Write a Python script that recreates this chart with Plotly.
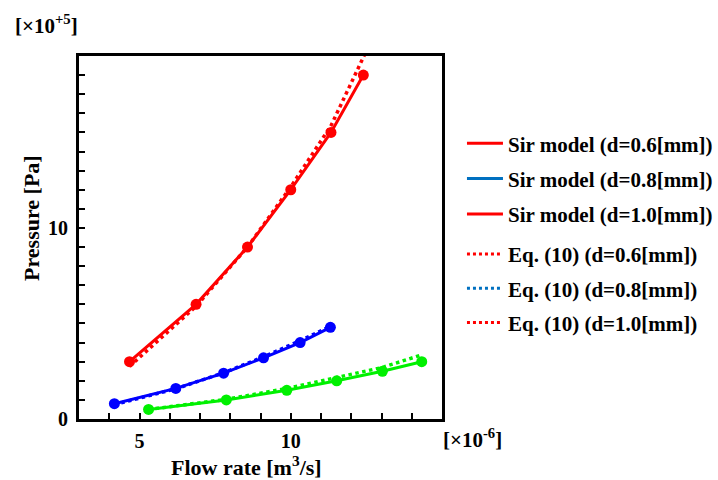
import plotly.graph_objects as go

# ---- data ----
flow_d06 = [4.67, 6.87, 8.57, 10.0, 11.33, 12.4]
sir_d06 = [3.0, 6.0, 9.0, 12.0, 15.0, 18.0]
eq_flow_d06 = [4.67, 6.87, 8.57, 10.0, 11.33, 12.45]
eq_d06 = [2.75, 5.9, 9.0, 12.15, 15.35, 19.1]

flow_d08 = [4.17, 6.2, 7.78, 9.1, 10.31, 11.31]
sir_d08 = [0.8, 1.6, 2.4, 3.2, 4.0, 4.8]
eq_d08 = [0.75, 1.58, 2.42, 3.25, 4.1, 4.85]

flow_d10 = [5.3, 7.87, 9.87, 11.52, 13.03, 14.33]
sir_d10 = [0.5, 1.0, 1.5, 2.0, 2.5, 3.0]
eq_d10 = [0.5, 1.03, 1.6, 2.18, 2.7, 3.36]

legend_labels = [
    "Sir model (d=0.6[mm])",
    "Sir model (d=0.8[mm])",
    "Sir model (d=1.0[mm])",
    "Eq. (10) (d=0.6[mm])",
    "Eq. (10) (d=0.8[mm])",
    "Eq. (10) (d=1.0[mm])",
]
legend_colors = ["#FF0000", "#0070C0", "#FF0000", "#FF0000", "#0070C0", "#FF0000"]

RED, BLUE, GREEN = "#FF0000", "#0000FF", "#00F000"
FONT = "Liberation Serif"

fig = go.Figure()

series = [
    (flow_d06, sir_d06, eq_flow_d06, eq_d06, RED),
    (flow_d08, sir_d08, flow_d08, eq_d08, BLUE),
    (flow_d10, sir_d10, flow_d10, eq_d10, GREEN),
]
for fx, fy, ex, ey, col in series:
    fig.add_trace(go.Scatter(x=ex, y=ey, mode="lines",
                             line=dict(color=col, width=3.5, dash="dot"),
                             showlegend=False, cliponaxis=True))
    fig.add_trace(go.Scatter(x=fx, y=fy, mode="lines+markers",
                             line=dict(color=col, width=3),
                             marker=dict(color=col, size=11),
                             showlegend=False))

# legend-only entries
for i, (lab, col) in enumerate(zip(legend_labels, legend_colors)):
    fig.add_trace(go.Scatter(
        x=[None], y=[None], mode="lines", name=lab,
        line=dict(color=col, width=3, dash="solid" if i < 3 else "dot"),
        legend="legend" if i < 3 else "legend2",
        legendgroup=lab,
    ))

axis_common = dict(
    showline=True, linecolor="black", linewidth=3, mirror=True,
    ticks="inside", ticklen=6, tickwidth=1.5, tickcolor="black",
    showgrid=False, zeroline=False,
    tickfont=dict(family=FONT, size=20, color="black", weight="bold"),
)

fig.update_xaxes(range=[3, 15], tickvals=[5, 10],
                 minor=dict(dtick=1, tick0=0, ticks="inside", ticklen=6,
                            tickwidth=1.5, tickcolor="black"),
                 ticklabelstandoff=2,
                 **axis_common)
fig.update_yaxes(range=[0, 19], tickvals=[0, 10],
                 minor=dict(dtick=1, tick0=0, ticks="inside", ticklen=6,
                            tickwidth=1.5, tickcolor="black"),
                 ticklabelstandoff=4,
                 **axis_common)

legend_font = dict(family=FONT, size=21, color="black", weight="bold")
fig.update_layout(
    width=718, height=480,
    margin=dict(l=79, r=276, t=56, b=61, autoexpand=False),
    plot_bgcolor="white", paper_bgcolor="white",
    legend=dict(x=1.055, y=0.815, xanchor="left", yanchor="top",
                font=legend_font, itemwidth=36, tracegroupgap=5,
                bgcolor="rgba(0,0,0,0)"),
    legend2=dict(x=1.055, y=0.51, xanchor="left", yanchor="top",
                 font=legend_font, itemwidth=36, tracegroupgap=4,
                 bgcolor="rgba(0,0,0,0)"),
)

# pixel-placed texts converted to paper coordinates
pw, ph = 718 - 79 - 276, 480 - 56 - 61
anns = []
specs = [
    ("[×10<sup>+5</sup>]", 13, 25, "left", 21),
    ("[×10<sup>-6</sup>]", 441, 438, "left", 21),
    ("Flow rate [m<sup>3</sup>/s]", 246, 466, "center", 22),
    ("Pressure [Pa]", 32, 218, "center", 22),
]
for txt, px, py, xa, fs in specs:
    anns.append(dict(
        text=txt, xref="paper", yref="paper",
        x=(px - 79) / pw, y=(480 - 61 - py) / ph,
        xanchor=xa, yanchor="middle", showarrow=False,
        textangle=-90 if "Pressure" in txt else 0,
        font=dict(family=FONT, size=fs, color="black", weight="bold"),
    ))
fig.update_layout(annotations=anns)

fig.write_html("out.html", config={"displayModeBar": False},
               post_script="document.body.style.margin='0';document.body.style.padding='0';")
